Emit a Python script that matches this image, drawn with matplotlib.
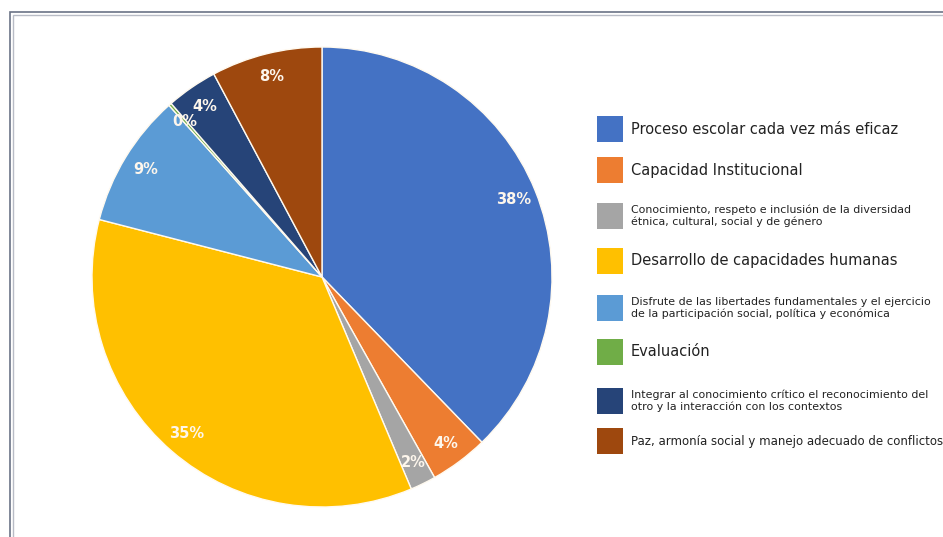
import matplotlib.pyplot as plt
from matplotlib.patches import Rectangle

# Datos (porcentajes)
categorias = [
    'Proceso escolar cada vez más eficaz',
    'Capacidad Institucional',
    'Conocimiento, respeto e inclusión de la diversidad\nétnica, cultural, social y de género',
    'Desarrollo de capacidades humanas',
    'Disfrute de las libertades fundamentales y el ejercicio\nde la participación social, política y económica',
    'Evaluación',
    'Integrar al conocimiento crítico el reconocimiento del\notro y la interacción con los contextos',
    'Paz, armonía social y manejo adecuado de conflictos',
]
valores = [37.8, 4.1, 1.8, 35.4, 9.4, 0.2, 3.6, 7.8]
colores = ['#4472C4', '#ED7D31', '#A5A5A5', '#FFC000',
           '#5B9BD5', '#70AD47', '#264478', '#9E480E']

W, H = 943, 537
fig = plt.figure(figsize=(W / 100, H / 100), dpi=100)

# marco doble gris
fig.patches.append(Rectangle((10 / W, -0.1), 1.2, (H - 12) / H + 0.1,
                             transform=fig.transFigure, fill=False,
                             edgecolor='#6b7386', linewidth=1.2))
fig.patches.append(Rectangle((13 / W, -0.1), 1.2, (H - 15) / H + 0.1,
                             transform=fig.transFigure, fill=False,
                             edgecolor='#b8bcc6', linewidth=1.0))

# Pastel
ax = fig.add_axes([92 / W, 30 / H, 460 / W, 460 / H])
wedges, textos, pcts = ax.pie(
    valores, colors=colores, startangle=90, counterclock=False,
    autopct='%.0f%%', pctdistance=0.9, radius=1,
    wedgeprops=dict(edgecolor='#fffaf0', linewidth=1.0),
    textprops=dict(color='#fdf6ec', fontsize=10.5, fontweight='bold'))
ax.set_xlim(-1, 1)
ax.set_ylim(-1, 1)
ax.set_aspect('auto')
ax.axis('off')

# Leyenda manual
ys = [129, 170, 216, 261, 308, 352, 401, 441]
tamanos = [10.5, 10.5, 7.9, 10.5, 7.9, 10.5, 7.9, 8.5]
for nombre, color, y, fs in zip(categorias, colores, ys, tamanos):
    fig.patches.append(Rectangle((597 / W, (H - y - 13) / H), 26 / W, 26 / H,
                                 transform=fig.transFigure, facecolor=color,
                                 edgecolor='none'))
    fig.text(631 / W, (H - y) / H, nombre, ha='left', va='center',
             fontsize=fs, linespacing=1.15, color='#222222',
             family='DejaVu Sans')

fig.savefig('out.png', dpi=100)
